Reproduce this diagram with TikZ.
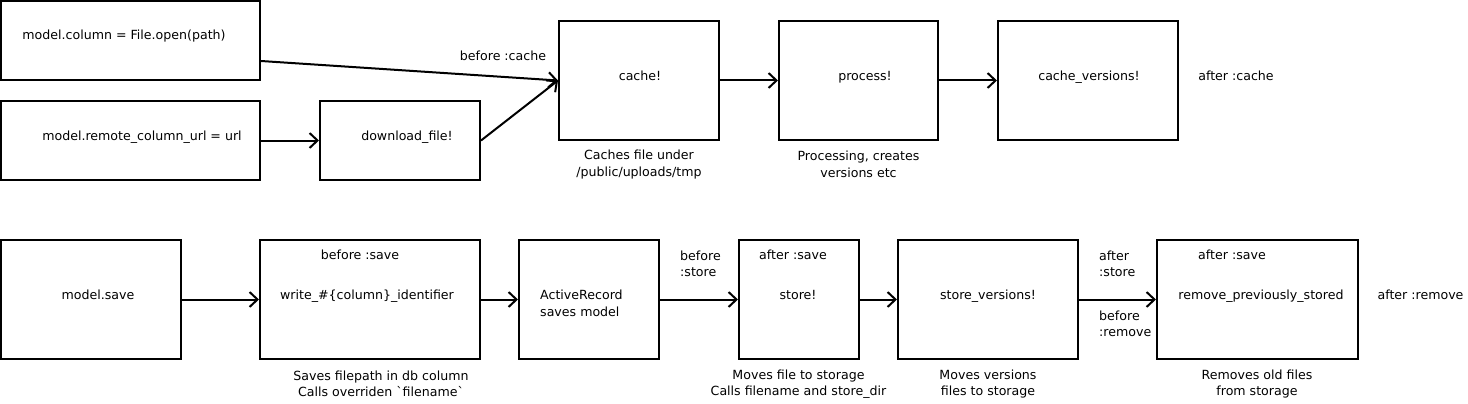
\documentclass[tikz,border=0pt]{standalone}
\usepackage{fontspec}
\setmainfont{DejaVu Sans}
\usetikzlibrary{arrows.meta}

\def\mylinewidth{2pt}

\begin{document}
\begin{tikzpicture}[x=1pt, y=-1pt,
    box/.style = {draw, line width=\mylinewidth, inner sep=0pt},
    txt/.style = {inner sep=0pt, font=\fontsize{12.6}{16.5}\selectfont, text height=9.5pt, text depth=3pt},
    note/.style = {inner sep=0pt, font=\fontsize{12.6}{16.5}\selectfont, align=center},
    lnote/.style = {note, align=left, anchor=west},
    flow/.style = {line width=\mylinewidth, -{Straight Barb[length=8pt,width=15pt,line width=\mylinewidth]}}]
\useasboundingbox (0,0) rectangle (1468,404);

% first row: assigning a file
\node [box, minimum width=259, minimum height=79] (assign) at (130.5,40.5) {};
\node [box, minimum width=259, minimum height=79] (remote) at (130.5,140.5) {};
\node [box, minimum width=160, minimum height=79] (download) at (400,140.5) {};
\node [box, minimum width=160, minimum height=119] (cache) at (639,80.5) {};
\node [box, minimum width=159, minimum height=119] (process) at (858.5,80.5) {};
\node [box, minimum width=180, minimum height=119] (cachever) at (1088,80.5) {};

\node [txt] (assigntxt) at (124,36) {model.column = File.open(path)};
\node [txt] (remotetxt) at (142,137) {model.remote\_column\_url = url};
\node [txt] (downloadtxt) at (407,137) {download\_file!};
\node [txt] (cachetxt) at (640,77) {cache!};
\node [txt] (processtxt) at (865,77) {process!};
\node [txt] (cachevertxt) at (1089,77) {cache\_versions!};
\node [txt] (beforecache) at (503,57) {before :cache};
\node [txt] (aftercache) at (1236,77) {after :cache};
\node [note] (cachenote) at (639,164.5) {Caches file under\\/public/uploads/tmp};
\node [note] (processnote) at (858.5,164.5) {Processing, creates\\versions etc};

\draw [flow] ([yshift=-20.5pt]assign.east) -- (cache.west); %assign to cache
\draw [flow] (remote) -- (download); %remote url to download
\draw [flow] (download.east) -- (cache.west); %download to cache
\draw [flow] (cache) -- (process);
\draw [flow] (process) -- (cachever);

% second row: saving the model
\node [box, minimum width=180, minimum height=119] (save) at (91,299.5) {};
\node [box, minimum width=220, minimum height=119] (write) at (370,299.5) {};
\node [box, minimum width=140, minimum height=119] (record) at (589,299.5) {};
\node [box, minimum width=120, minimum height=119] (store) at (799,299.5) {};
\node [box, minimum width=180, minimum height=119] (storever) at (988,299.5) {};
\node [box, minimum width=201, minimum height=119] (remove) at (1257.5,299.5) {};

\node [txt] (savetxt) at (98,296) {model.save};
\node [txt] (beforesave) at (360,256) {before :save};
\node [txt] (writetxt) at (367,296) {write\_\#\{column\}\_identifier};
\node [lnote] (recordtxt) at (540,303.5) {ActiveRecord\\saves model};
\node [lnote] (beforestore) at (680,264) {before\\:store};
\node [txt] (storeafter) at (793,256) {after :save};
\node [txt] (storetxt) at (798,296) {store!};
\node [txt] (storevertxt) at (988,296) {store\_versions!};
\node [lnote] (afterstore) at (1099,264) {after\\:store};
\node [lnote] (beforeremove) at (1099,324) {before\\:remove};
\node [txt] (removeafter) at (1232,256) {after :save};
\node [txt] (removetxt) at (1261,296) {remove\_previously\_stored};
\node [txt] (afterremove) at (1420.5,296) {after :remove};

\node [note] (writenote) at (381,384) {Saves filepath in db column\\Calls overriden \textasciigrave filename\textasciigrave};
\node [note] (storenote) at (798.5,384) {Moves file to storage\\Calls filename and store\_dir};
\node [note] (storevernote) at (988,384) {Moves versions\\files to storage};
\node [note] (removenote) at (1257,384) {Removes old files\\from storage};

\draw [flow] (save) -- (write);
\draw [flow] (write) -- (record);
\draw [flow] (record) -- (store);
\draw [flow] (store) -- (storever);
\draw [flow] (storever) -- (remove);
\end{tikzpicture}
\end{document}
